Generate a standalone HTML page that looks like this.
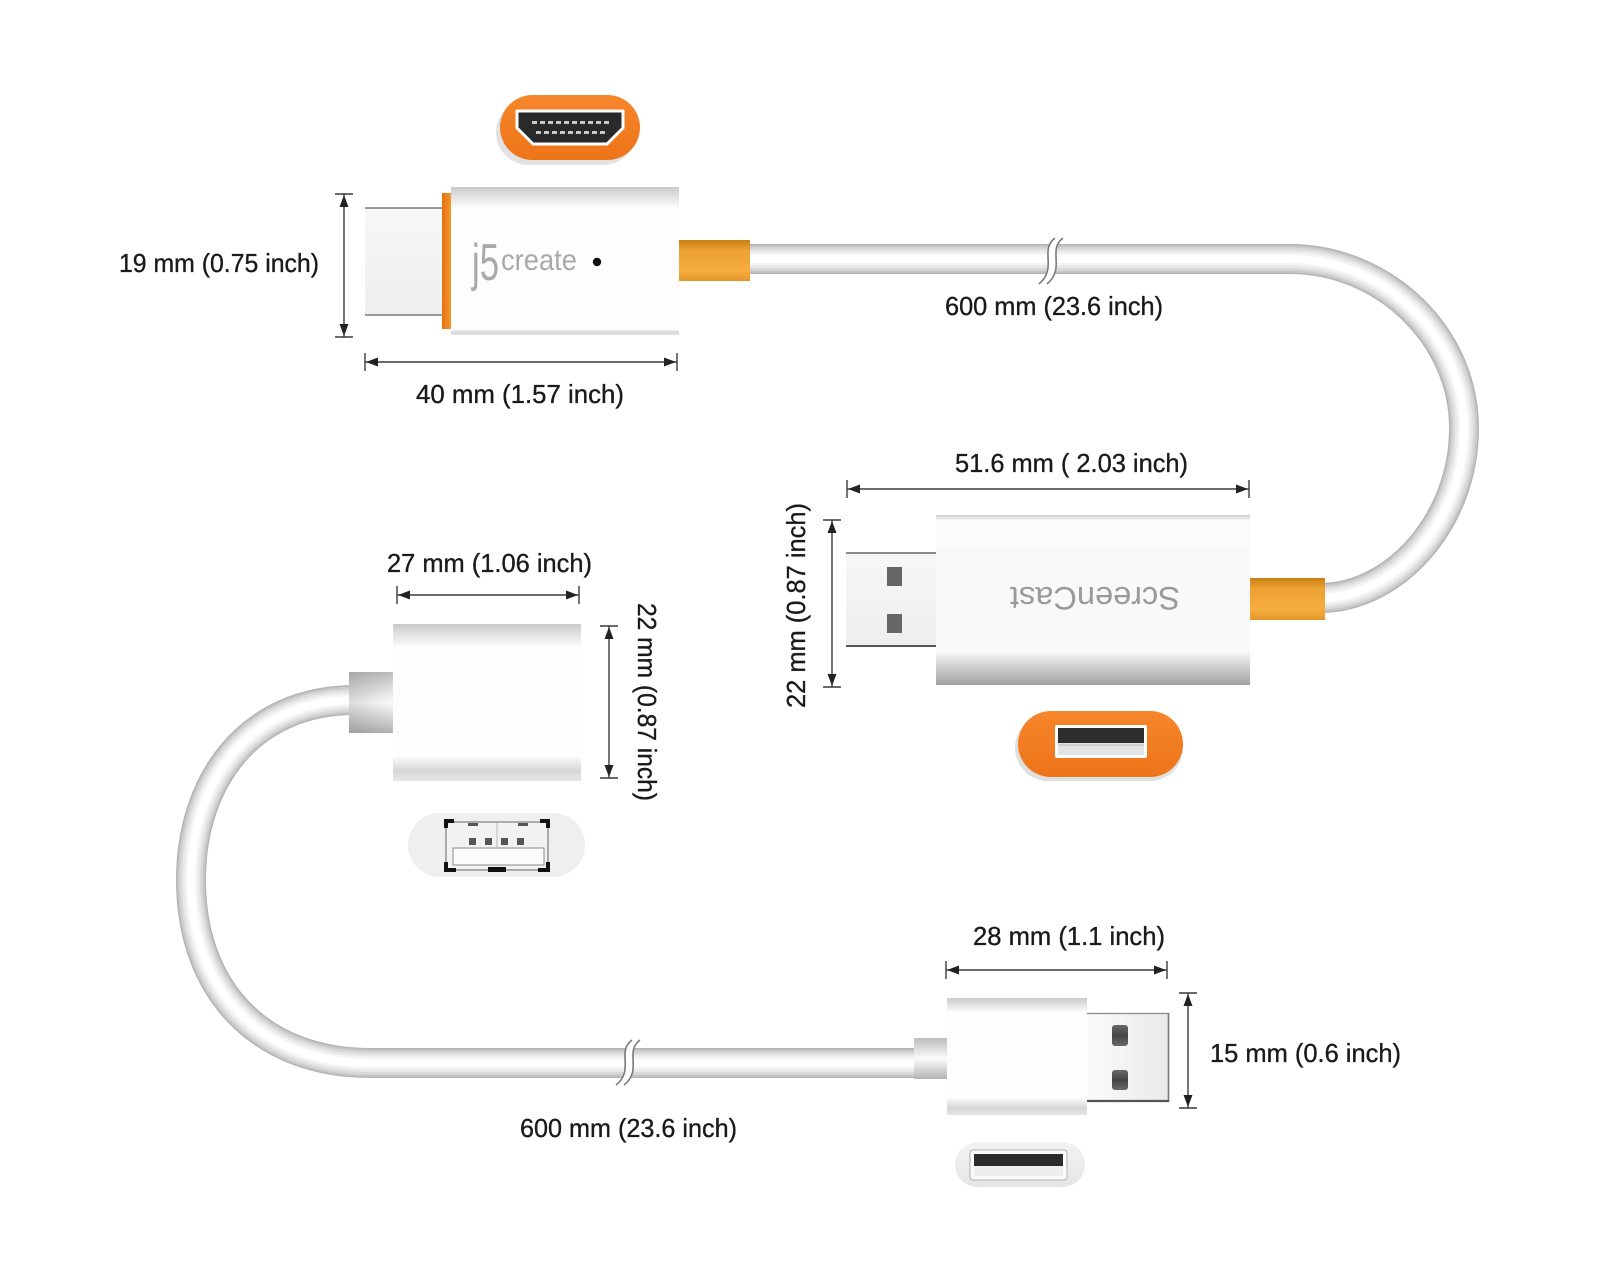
<!DOCTYPE html>
<html>
<head>
<meta charset="utf-8">
<style>
  html,body{margin:0;padding:0;background:#fff;}
  svg{display:block;}
  .t{font-family:"Liberation Sans",sans-serif;font-size:26px;fill:#1a1a1a;stroke:#1a1a1a;stroke-width:0.35;}
  .dim{stroke:#3a3a3a;stroke-width:1.4;fill:none;}
  .ah{fill:#222;}
</style>
</head>
<body>
<svg width="1600" height="1280" viewBox="0 0 1600 1280" xmlns="http://www.w3.org/2000/svg">
<defs>
  <linearGradient id="oc" x1="0" y1="0" x2="0" y2="1">
    <stop offset="0" stop-color="#c98012"/>
    <stop offset="0.25" stop-color="#eda033"/>
    <stop offset="0.75" stop-color="#f6ad3f"/>
    <stop offset="1" stop-color="#e39628"/>
  </linearGradient>
  <linearGradient id="gc" x1="0" y1="0" x2="0" y2="1">
    <stop offset="0" stop-color="#bdbdbd"/>
    <stop offset="0.5" stop-color="#fbfbfb"/>
    <stop offset="1" stop-color="#b3b3b3"/>
  </linearGradient>
  <linearGradient id="gch" x1="0" y1="0" x2="1" y2="0">
    <stop offset="0" stop-color="#000" stop-opacity="0.12"/>
    <stop offset="1" stop-color="#000" stop-opacity="0"/>
  </linearGradient>
  <linearGradient id="bt" x1="0" y1="0" x2="0" y2="1">
    <stop offset="0" stop-color="#cbcbcb"/>
    <stop offset="1" stop-color="#ffffff"/>
  </linearGradient>
  <linearGradient id="bb" x1="0" y1="0" x2="0" y2="1">
    <stop offset="0" stop-color="#ffffff"/>
    <stop offset="0.6" stop-color="#d6d6d6"/>
    <stop offset="1" stop-color="#e6e6e6"/>
  </linearGradient>
  <linearGradient id="sb" x1="0" y1="0" x2="0" y2="1">
    <stop offset="0" stop-color="#f4f4f4"/>
    <stop offset="1" stop-color="#a0a0a0"/>
  </linearGradient>
  <linearGradient id="os" x1="0" y1="0" x2="1" y2="0">
    <stop offset="0" stop-color="#e56f14"/>
    <stop offset="1" stop-color="#f3992a"/>
  </linearGradient>
  <linearGradient id="metal" x1="0" y1="0" x2="0" y2="1">
    <stop offset="0" stop-color="#f7f7f7"/>
    <stop offset="1" stop-color="#eeeeee"/>
  </linearGradient>
  <linearGradient id="usbm" x1="0" y1="0" x2="1" y2="0">
    <stop offset="0" stop-color="#fbfbfb"/>
    <stop offset="1" stop-color="#e9e9e9"/>
  </linearGradient>
  <linearGradient id="op" x1="0" y1="0" x2="0" y2="1">
    <stop offset="0" stop-color="#f6862c"/>
    <stop offset="1" stop-color="#ee7418"/>
  </linearGradient>
  <linearGradient id="gp" x1="0" y1="0" x2="0" y2="1">
    <stop offset="0" stop-color="#f3f3f3"/>
    <stop offset="1" stop-color="#e5e5e5"/>
  </linearGradient>
  <linearGradient id="hole" x1="0" y1="0" x2="0" y2="1">
    <stop offset="0" stop-color="#6a6a6a"/>
    <stop offset="0.5" stop-color="#444"/>
    <stop offset="1" stop-color="#6a6a6a"/>
  </linearGradient>
</defs>

<rect width="1600" height="1280" fill="#fff"/>

<!-- ================= CABLES ================= -->
<g fill="none" stroke-linecap="butt">
  <g>
    <path d="M 745 259 L 1290 259 C 1383 259 1464 335 1464 428 C 1464 521 1395 598 1320 598" stroke="#b4b4b4" stroke-width="30"/>
    <path d="M 745 259 L 1290 259 C 1383 259 1464 335 1464 428 C 1464 521 1395 598 1320 598" stroke="#c8c8c8" stroke-width="27"/>
    <path d="M 745 259 L 1290 259 C 1383 259 1464 335 1464 428 C 1464 521 1395 598 1320 598" stroke="#d9d9d9" stroke-width="23"/>
    <path d="M 745 259 L 1290 259 C 1383 259 1464 335 1464 428 C 1464 521 1395 598 1320 598" stroke="#e8e8e8" stroke-width="18"/>
    <path d="M 745 259 L 1290 259 C 1383 259 1464 335 1464 428 C 1464 521 1395 598 1320 598" stroke="#f4f4f4" stroke-width="13"/>
    <path d="M 745 259 L 1290 259 C 1383 259 1464 335 1464 428 C 1464 521 1395 598 1320 598" stroke="#ffffff" stroke-width="8"/>
  </g>
  <g>
    <path d="M 355 700 C 250 700 191 780 191 880 C 191 990 260 1063 370 1063 L 920 1063" stroke="#b4b4b4" stroke-width="30"/>
    <path d="M 355 700 C 250 700 191 780 191 880 C 191 990 260 1063 370 1063 L 920 1063" stroke="#c8c8c8" stroke-width="27"/>
    <path d="M 355 700 C 250 700 191 780 191 880 C 191 990 260 1063 370 1063 L 920 1063" stroke="#d9d9d9" stroke-width="23"/>
    <path d="M 355 700 C 250 700 191 780 191 880 C 191 990 260 1063 370 1063 L 920 1063" stroke="#e8e8e8" stroke-width="18"/>
    <path d="M 355 700 C 250 700 191 780 191 880 C 191 990 260 1063 370 1063 L 920 1063" stroke="#f4f4f4" stroke-width="13"/>
    <path d="M 355 700 C 250 700 191 780 191 880 C 191 990 260 1063 370 1063 L 920 1063" stroke="#ffffff" stroke-width="8"/>
  </g>
  <path d="M 1059 238 C 1043 250 1062 268 1043 284" stroke="#fff" stroke-width="8"/>
  <path d="M 1055 238 C 1039 250 1058 268 1039 284" stroke="#7a7a7a" stroke-width="1.6"/>
  <path d="M 1063 238 C 1047 250 1066 268 1047 284" stroke="#7a7a7a" stroke-width="1.6"/>

  <path d="M 636 1040 C 620 1052 639 1070 620 1085" stroke="#fff" stroke-width="8"/>
  <path d="M 632 1040 C 616 1052 635 1070 616 1085" stroke="#7a7a7a" stroke-width="1.6"/>
  <path d="M 640 1040 C 624 1052 643 1070 624 1085" stroke="#7a7a7a" stroke-width="1.6"/>
</g>

<!-- ================= HDMI PLUG ================= -->
<rect x="496" y="100" width="140" height="65" rx="32.5" fill="#e2e2e2"/>
<rect x="500" y="95" width="140" height="65" rx="32.5" fill="url(#op)"/>
<polygon points="517,111 623,111 623,128 607,144 533,144 517,128" fill="#2a2a2a" stroke="#ffffff" stroke-width="3" stroke-linejoin="round"/>
<g fill="#c9c9c9">
  <rect x="532" y="121" width="5" height="3"/><rect x="540" y="121" width="5" height="3"/><rect x="548" y="121" width="5" height="3"/><rect x="556" y="121" width="5" height="3"/><rect x="564" y="121" width="5" height="3"/><rect x="572" y="121" width="5" height="3"/><rect x="580" y="121" width="5" height="3"/><rect x="588" y="121" width="5" height="3"/><rect x="596" y="121" width="5" height="3"/><rect x="604" y="121" width="5" height="3"/>
  <rect x="536" y="131" width="5" height="3"/><rect x="544" y="131" width="5" height="3"/><rect x="552" y="131" width="5" height="3"/><rect x="560" y="131" width="5" height="3"/><rect x="568" y="131" width="5" height="3"/><rect x="576" y="131" width="5" height="3"/><rect x="584" y="131" width="5" height="3"/><rect x="592" y="131" width="5" height="3"/><rect x="600" y="131" width="5" height="3"/>
</g>

<rect x="365" y="208" width="77" height="107" fill="url(#metal)"/>
<line x1="365" y1="208" x2="442" y2="208" stroke="#7c7c7c" stroke-width="1.6"/>
<line x1="365" y1="315" x2="442" y2="315" stroke="#7c7c7c" stroke-width="1.6"/>
<rect x="442" y="193" width="9" height="136" fill="url(#os)"/>
<rect x="451" y="187" width="228" height="148" fill="#fdfdfd"/>
<rect x="451" y="187" width="228" height="22" fill="url(#bt)"/>
<rect x="451" y="329" width="228" height="6" fill="url(#bb)"/>
<text x="472" y="280" font-family="'Liberation Sans',sans-serif" font-size="52" fill="#a9a9a9" textLength="27" lengthAdjust="spacingAndGlyphs" transform="translate(472,280) scale(1,1) translate(-472,-280)">j5</text>
<text x="501" y="270" font-family="'Liberation Sans',sans-serif" font-size="30" fill="#a9a9a9" textLength="76" lengthAdjust="spacingAndGlyphs">create</text>
<circle cx="597" cy="262" r="4.2" fill="#111"/>
<rect x="679" y="240" width="71" height="41" fill="url(#oc)"/>

<!-- ================= SCREENCAST ================= -->
<rect x="846" y="553" width="90" height="93" fill="url(#metal)"/>
<line x1="846" y1="553" x2="936" y2="553" stroke="#666" stroke-width="1.6"/>
<line x1="846" y1="646" x2="936" y2="646" stroke="#555" stroke-width="2"/>
<rect x="887" y="567" width="15" height="19" fill="#666"/>
<rect x="887" y="614" width="15" height="19" fill="#666"/>

<rect x="936" y="515" width="314" height="170" fill="#fcfcfc"/>
<rect x="936" y="515" width="314" height="6" fill="url(#bt)"/>
<rect x="936" y="546" width="314" height="107" fill="#f9f9f9"/>
<rect x="936" y="653" width="314" height="32" fill="url(#sb)"/>
<text transform="translate(1095,587) rotate(180)" text-anchor="middle" font-family="'Liberation Sans',sans-serif" font-size="32" fill="#9a9a9a" textLength="170" lengthAdjust="spacingAndGlyphs">ScreenCast</text>
<rect x="1250" y="578" width="75" height="42" fill="url(#oc)"/>

<rect x="1015" y="715" width="168" height="66" rx="33" fill="#e0e0e0"/>
<rect x="1018" y="711" width="165" height="66" rx="33" fill="url(#op)"/>
<rect x="1055" y="725" width="92" height="33" rx="2" fill="#fff"/>
<rect x="1058" y="728" width="86" height="15" fill="#2e2e2e"/>
<rect x="1058" y="743" width="86" height="12" fill="#e4e4e4"/>
<line x1="1058" y1="745" x2="1144" y2="745" stroke="#bdbdbd" stroke-width="1"/>

<!-- ================= FEMALE USB ================= -->
<rect x="349" y="672" width="44" height="61" fill="url(#gc)"/>
<rect x="349" y="672" width="44" height="61" fill="url(#gch)"/>
<rect x="393" y="624" width="188" height="157" fill="#fdfdfd"/>
<rect x="393" y="624" width="188" height="24" fill="url(#bt)"/>
<rect x="393" y="755" width="188" height="26" fill="url(#bb)"/>

<rect x="408" y="813" width="177" height="64" rx="32" fill="#efefef"/>
<rect x="446" y="822" width="102" height="48" fill="#f2f2f2" stroke="#666" stroke-width="1"/>
<rect x="453" y="848" width="91" height="17" fill="#fbfbfb" stroke="#8a8a8a" stroke-width="1"/>
<line x1="497" y1="823" x2="497" y2="847" stroke="#bbb" stroke-width="1"/>
<g fill="#555">
  <rect x="469" y="838" width="7" height="7"/><rect x="485" y="838" width="7" height="7"/><rect x="501" y="838" width="7" height="7"/><rect x="517" y="838" width="7" height="7"/>
  <rect x="468" y="823" width="10" height="3"/><rect x="518" y="823" width="10" height="3"/>
</g>
<g fill="#111">
  <rect x="444" y="819" width="10" height="4"/><rect x="444" y="819" width="4" height="9"/>
  <rect x="540" y="819" width="10" height="4"/><rect x="546" y="819" width="4" height="9"/>
  <rect x="444" y="868" width="12" height="4"/><rect x="444" y="862" width="4" height="10"/>
  <rect x="538" y="868" width="12" height="4"/><rect x="546" y="862" width="4" height="10"/>
  <rect x="488" y="867" width="18" height="5"/>
</g>

<!-- ================= MALE USB (bottom) ================= -->
<rect x="914" y="1038" width="33" height="41" fill="url(#gc)"/>
<rect x="947" y="998" width="140" height="117" fill="#fdfdfd"/>
<rect x="947" y="998" width="140" height="15" fill="url(#bt)"/>
<rect x="947" y="1097" width="140" height="18" fill="url(#bb)"/>

<rect x="1087" y="1013" width="82" height="89" fill="url(#usbm)"/>
<line x1="1087" y1="1013.5" x2="1169" y2="1013.5" stroke="#8a8a8a" stroke-width="1.2"/>
<line x1="1168.5" y1="1013" x2="1168.5" y2="1102" stroke="#777" stroke-width="1.6"/>
<line x1="1087" y1="1101" x2="1169" y2="1101" stroke="#555" stroke-width="2.2"/>
<rect x="1112" y="1025" width="16" height="21" rx="3" fill="url(#hole)"/>
<rect x="1112" y="1070" width="16" height="20" rx="3" fill="url(#hole)"/>

<rect x="955" y="1142" width="130" height="45" rx="22.5" fill="url(#gp)"/>
<rect x="970" y="1150" width="97" height="30" rx="3" fill="#fafafa" stroke="#b0b0b0" stroke-width="1"/>
<rect x="974" y="1154" width="89" height="12" fill="#2b2b2b"/>
<rect x="974" y="1166" width="89" height="10" fill="#eeeeee"/>

<!-- ================= DIMENSION LINES ================= -->
<g class="dim">
  <line x1="344" y1="194" x2="344" y2="337"/>
  <line x1="335" y1="194" x2="353" y2="194"/>
  <line x1="335" y1="337" x2="353" y2="337"/>
  <line x1="365" y1="362" x2="677" y2="362"/>
  <line x1="365" y1="353" x2="365" y2="371"/>
  <line x1="677" y1="353" x2="677" y2="371"/>
  <line x1="847" y1="489" x2="1249" y2="489"/>
  <line x1="847" y1="480" x2="847" y2="498"/>
  <line x1="1249" y1="480" x2="1249" y2="498"/>
  <line x1="832" y1="520" x2="832" y2="687"/>
  <line x1="823" y1="520" x2="841" y2="520"/>
  <line x1="823" y1="687" x2="841" y2="687"/>
  <line x1="397" y1="595" x2="579" y2="595"/>
  <line x1="397" y1="586" x2="397" y2="604"/>
  <line x1="579" y1="586" x2="579" y2="604"/>
  <line x1="609" y1="626" x2="609" y2="778"/>
  <line x1="600" y1="626" x2="618" y2="626"/>
  <line x1="600" y1="778" x2="618" y2="778"/>
  <line x1="946" y1="970" x2="1167" y2="970"/>
  <line x1="946" y1="961" x2="946" y2="979"/>
  <line x1="1167" y1="961" x2="1167" y2="979"/>
  <line x1="1188" y1="993" x2="1188" y2="1108"/>
  <line x1="1179" y1="993" x2="1197" y2="993"/>
  <line x1="1179" y1="1108" x2="1197" y2="1108"/>
</g>
<g class="ah">
  <polygon points="344,195 339.5,207 348.5,207"/>
  <polygon points="344,336 339.5,324 348.5,324"/>
  <polygon points="366,362 378,357.5 378,366.5"/>
  <polygon points="676,362 664,357.5 664,366.5"/>
  <polygon points="848,489 860,484.5 860,493.5"/>
  <polygon points="1248,489 1236,484.5 1236,493.5"/>
  <polygon points="832,521 827.5,533 836.5,533"/>
  <polygon points="832,686 827.5,674 836.5,674"/>
  <polygon points="398,595 410,590.5 410,599.5"/>
  <polygon points="578,595 566,590.5 566,599.5"/>
  <polygon points="609,627 604.5,639 613.5,639"/>
  <polygon points="609,777 604.5,765 613.5,765"/>
  <polygon points="947,970 959,965.5 959,974.5"/>
  <polygon points="1166,970 1154,965.5 1154,974.5"/>
  <polygon points="1188,994 1183.5,1006 1192.5,1006"/>
  <polygon points="1188,1107 1183.5,1095 1192.5,1095"/>
</g>

<!-- ================= LABELS ================= -->
<text class="t" x="119" y="272" textLength="200" lengthAdjust="spacingAndGlyphs">19 mm (0.75 inch)</text>
<text class="t" x="416" y="403" textLength="208" lengthAdjust="spacingAndGlyphs">40 mm (1.57 inch)</text>
<text class="t" x="945" y="315" textLength="218" lengthAdjust="spacingAndGlyphs">600 mm (23.6 inch)</text>
<text class="t" x="955" y="472" textLength="233" lengthAdjust="spacingAndGlyphs">51.6 mm ( 2.03 inch)</text>
<text class="t" x="387" y="572" textLength="205" lengthAdjust="spacingAndGlyphs">27 mm (1.06 inch)</text>
<text class="t" transform="translate(638,603) rotate(90)" textLength="198" lengthAdjust="spacingAndGlyphs">22 mm (0.87 inch)</text>
<text class="t" transform="translate(805,708) rotate(-90)" textLength="205" lengthAdjust="spacingAndGlyphs">22 mm (0.87 inch)</text>
<text class="t" x="973" y="945" textLength="192" lengthAdjust="spacingAndGlyphs">28 mm (1.1 inch)</text>
<text class="t" x="1210" y="1062" textLength="191" lengthAdjust="spacingAndGlyphs">15 mm (0.6 inch)</text>
<text class="t" x="520" y="1137" textLength="217" lengthAdjust="spacingAndGlyphs">600 mm (23.6 inch)</text>
</svg>
</body>
</html>
